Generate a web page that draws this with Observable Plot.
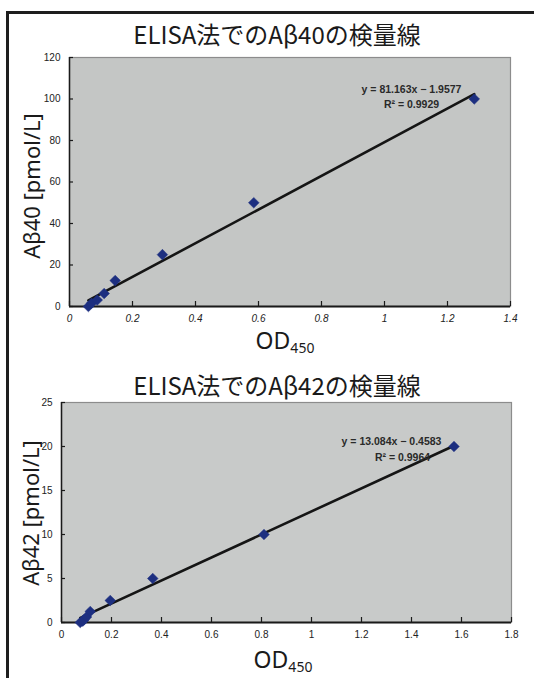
<!DOCTYPE html>
<html>
<head>
<meta charset="utf-8">
<script src="https://cdn.jsdelivr.net/npm/d3@7"></script>
<script src="https://cdn.jsdelivr.net/npm/@observablehq/plot@0.6"></script>
<style>
  html, body { margin: 0; padding: 0; background: #fff; }
  #page { position: relative; width: 534px; height: 678px; overflow: hidden; background: #fff; }
  .frame { position: absolute; left: 6px; top: 11px; width: 600px; height: 700px;
           border-left: 3px solid #1e1e1e; border-top: 3px solid #1e1e1e; }
  .chart { position: absolute; left: 0; }
  .title { position: absolute; font-family: "Noto Sans CJK JP", "Noto Sans", sans-serif;
           font-size: 24px; color: #1a1a1a; white-space: nowrap; transform: translate(-50%, -50%); line-height: 1; }
  .ylab { position: absolute; font-family: "Noto Sans", "Noto Sans CJK JP", sans-serif;
          font-size: 22px; color: #1a1a1a; white-space: nowrap; line-height: 1;
          transform: translate(-50%, -50%) rotate(-90deg); }
  .xlab { position: absolute; font-family: "Noto Sans", sans-serif; font-size: 23px; color: #1a1a1a;
          white-space: nowrap; line-height: 17px; transform: translate(-50%, -50%); }
  .xlab sub { font-size: 14px; vertical-align: -4px; line-height: 0; }
</style>
</head>
<body>
<div id="page">
  <div class="frame"></div>
</div>
<script>
// ---- Data: Aβ40 standard curve ----
const ab40Title = "ELISA法でのAβ40の検量線";
const ab40YLabel = "Aβ40 [pmol/L]";
const ab40OD = [0.06, 0.07, 0.088, 0.11, 0.145, 0.295, 0.585, 1.285];
const ab40Conc = [0, 1.56, 3.13, 6.25, 12.5, 25, 50, 100];
const ab40Slope = 81.163;
const ab40Intercept = -1.9577;
const ab40R2 = "0.9929";
const ab40XTicks = [0, 0.2, 0.4, 0.6, 0.8, 1, 1.2, 1.4];
const ab40YTicks = [0, 20, 40, 60, 80, 100, 120];

// ---- Data: Aβ42 standard curve ----
const ab42Title = "ELISA法でのAβ42の検量線";
const ab42YLabel = "Aβ42 [pmol/L]";
const ab42OD = [0.075, 0.085, 0.09, 0.1, 0.115, 0.195, 0.365, 0.81, 1.57];
const ab42Conc = [0, 0.156, 0.313, 0.625, 1.25, 2.5, 5, 10, 20];
const ab42Slope = 13.084;
const ab42Intercept = -0.4583;
const ab42R2 = "0.9964";
const ab42XTicks = [0, 0.2, 0.4, 0.6, 0.8, 1, 1.2, 1.4, 1.6, 1.8];
const ab42YTicks = [0, 5, 10, 15, 20, 25];

const xLabel = "OD";
const xLabelSub = "450";

function makeChart(cfg) {
  const pts = cfg.od.map((x, i) => ({x, y: cfg.conc[i]}));
  const xs = d3.extent(cfg.od);
  const line = xs.map(x => ({x, y: cfg.slope * x + cfg.intercept}));
  const eq = `y = ${cfg.slope}x − ${Math.abs(cfg.intercept)}`;
  const r2 = `R² = ${cfg.r2}`;
  return Plot.plot({
    width: 534,
    height: cfg.height,
    marginLeft: cfg.ml, marginRight: cfg.mr, marginTop: cfg.mt, marginBottom: cfg.mb,
    style: { background: "transparent", fontFamily: "'Liberation Sans', Arial, sans-serif", fontSize: "10px", color: "#222" },
    x: { domain: [cfg.xTicks[0], cfg.xTicks[cfg.xTicks.length - 1]] },
    y: { domain: [cfg.yTicks[0], cfg.yTicks[cfg.yTicks.length - 1]] },
    marks: [
      Plot.frame({ fill: cfg.bg, stroke: "#8c8c8c", strokeWidth: 1.2 }),
      Plot.axisX({ ticks: cfg.xTicks, tickSize: 0, tickPadding: 8, label: null,
                   fontStyle: cfg.italicX ? "italic" : "normal", tickFormat: d => String(d) }),
      Plot.axisX({ ticks: cfg.xTicks, tickSize: 5, dy: -5, label: null, tickFormat: () => "",
                   stroke: "#1a1a1a", strokeWidth: 1.2 }),
      Plot.axisY({ ticks: cfg.yTicks, tickSize: 0, tickPadding: 9, label: null, tickFormat: d => String(d) }),
      Plot.axisY({ ticks: cfg.yTicks, tickSize: 4, dx: 4, label: null, tickFormat: () => "",
                   stroke: "#1a1a1a", strokeWidth: 1.2 }),
      Plot.ruleY([cfg.yTicks[0]], { stroke: "#1a1a1a", strokeWidth: 2 }),
      Plot.ruleX([cfg.xTicks[0]], { stroke: "#1a1a1a", strokeWidth: 1.5 }),
      Plot.line(line, { x: "x", y: "y", stroke: "#151515", strokeWidth: 2.6 }),
      Plot.dot(pts, { x: "x", y: "y", symbol: "diamond2", r: 4.8, fill: "#1d2f80", stroke: "#1d2f80", strokeWidth: 0.5 }),
      Plot.text([eq], { frameAnchor: "top-right", dx: cfg.eqDx, dy: cfg.eqDy, text: d => d,
                        textAnchor: "middle", fontSize: 10.5, fontWeight: "bold", fill: "#2a2a2a" }),
      Plot.text([r2], { frameAnchor: "top-right", dx: cfg.r2Dx, dy: cfg.r2Dy, text: d => d,
                        textAnchor: "middle", fontSize: 10.5, fontWeight: "bold", fill: "#2a2a2a" })
    ]
  });
}

const page = document.getElementById("page");

function addText(cls, html, x, y) {
  const d = document.createElement("div");
  d.className = cls;
  d.innerHTML = html;
  d.style.left = x + "px";
  d.style.top = y + "px";
  page.appendChild(d);
}

// Top chart
const c1 = makeChart({
  od: ab40OD, conc: ab40Conc, slope: ab40Slope, intercept: ab40Intercept, r2: ab40R2,
  xTicks: ab40XTicks, yTicks: ab40YTicks, italicX: true,
  height: 340, ml: 69, mr: 24, mt: 57, mb: 34, bg: "#c4c6c5",
  eqDx: -99, eqDy: 28, r2Dx: -99, r2Dy: 43
});
c1.classList.add("chart");
c1.style.top = "0px";
page.appendChild(c1);

// Bottom chart
const c2 = makeChart({
  od: ab42OD, conc: ab42Conc, slope: ab42Slope, intercept: ab42Intercept, r2: ab42R2,
  xTicks: ab42XTicks, yTicks: ab42YTicks, italicX: false,
  height: 338, ml: 61, mr: 23, mt: 62, mb: 56, bg: "#c8cac9",
  eqDx: -120, eqDy: 35, r2Dx: -109, r2Dy: 51
});
c2.classList.add("chart");
c2.style.top = "340px";
page.appendChild(c2);

addText("title", ab40Title, 277, 34);
addText("title", ab42Title, 277, 385);
addText("ylab", ab40YLabel, 31, 186);
addText("ylab", ab42YLabel, 30, 513);
addText("xlab", `${xLabel}<sub>${xLabelSub}</sub>`, 285, 340);
addText("xlab", `${xLabel}<sub>${xLabelSub}</sub>`, 283, 659);
</script>
</body>
</html>
